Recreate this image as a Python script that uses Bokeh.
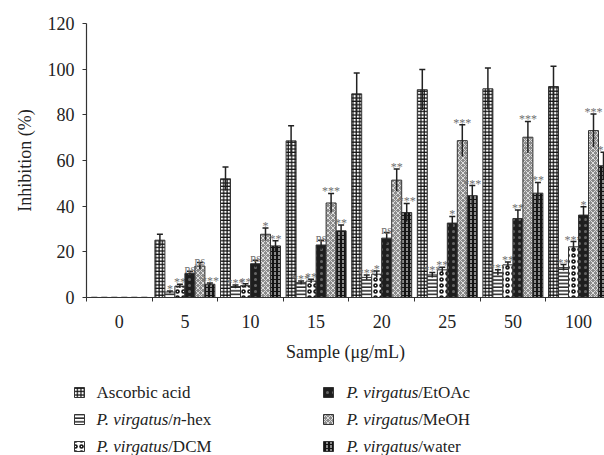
from bokeh.plotting import figure
from bokeh.models import Range1d, FixedTicker, ColumnDataSource
from bokeh.layouts import column, row
from bokeh.embed import file_html
from bokeh.resources import INLINE
from bokeh.core.properties import value
from bokeh.transform import dodge

# ---------------- data ----------------
doses = ["0", "5", "10", "15", "20", "25", "50", "100"]
series = ["Ascorbic acid", "P. virgatus/n-hex", "P. virgatus/DCM",
          "P. virgatus/EtOAc", "P. virgatus/MeOH", "P. virgatus/water"]

aa = [0, 25.1, 52.0, 68.6, 89.2, 91.0, 91.4, 92.4]
aa_err = [0, 2.6, 5.1, 6.6, 9.1, 8.9, 9.1, 8.9]
nhex = [0, 2.4, 4.8, 6.5, 8.8, 9.9, 10.9, 13.1]
nhex_err = [0, 0.5, 0.7, 0.7, 1.0, 1.1, 1.2, 1.3]
dcm = [0, 5.0, 5.2, 7.2, 10.2, 12.1, 14.3, 22.2]
dcm_err = [0, 0.8, 0.8, 0.8, 1.4, 1.2, 1.2, 2.3]
etoac = [0, 10.5, 14.8, 23.0, 26.0, 32.6, 34.6, 36.1]
etoac_err = [0, 1.0, 1.5, 2.1, 2.5, 2.9, 3.7, 3.6]
meoh = [0, 13.8, 27.7, 41.4, 51.4, 68.7, 70.2, 73.1]
meoh_err = [0, 1.5, 2.7, 4.2, 4.9, 7.0, 6.9, 7.3]
water = [0, 5.8, 22.6, 29.2, 37.2, 44.6, 45.7, 57.7]
water_err = [0, 0.5, 2.2, 2.6, 4.0, 4.4, 4.7, 5.9]

aa_sig = ["", "", "", "", "", "", "", ""]
nhex_sig = ["", "*", "***", "***", "***", "***", "***", "**"]
dcm_sig = ["", "**", "**", "**", "*", "**", "**", "***"]
etoac_sig = ["", "ns", "ns", "ns", "ns", "*", "**", "*"]
meoh_sig = ["", "ns", "*", "***", "**", "***", "***", "***"]
water_sig = ["", "***", "**", "**", "***", "***", "**", "*"]

y_ticks = [0, 20, 40, 60, 80, 100, 120]

vals = [aa, nhex, dcm, etoac, meoh, water]
errs = [aa_err, nhex_err, dcm_err, etoac_err, meoh_err, water_err]
sigs = [aa_sig, nhex_sig, dcm_sig, etoac_sig, meoh_sig, water_sig]

# ---------------- styles ----------------
styles = [
    dict(fill_color="white", hatch_pattern="+", hatch_color="#111", hatch_scale=3.4, hatch_weight=1.2),
    dict(fill_color="white", hatch_pattern="-", hatch_color="#111", hatch_scale=3.6, hatch_weight=1.4),
    dict(fill_color="white", hatch_pattern="o", hatch_color="#111", hatch_scale=6, hatch_weight=1.6),
    dict(fill_color="#1e1e1e", hatch_pattern=".", hatch_color="#666", hatch_scale=6, hatch_weight=1.0),
    dict(fill_color="#8c8c8c", hatch_pattern="x", hatch_color="#e8e8e8", hatch_scale=5, hatch_weight=0.9),
    dict(fill_color="#141414", hatch_pattern=":", hatch_color="white", hatch_scale=4, hatch_weight=1.0),
]

SERIF = "Liberation Serif"
cat_px = 65.6
bar_w = 10.0 / cat_px

p = figure(width=604, height=365, output_backend="svg", toolbar_location=None,
           x_range=Range1d(0, 518.0 / cat_px), y_range=Range1d(0, 120),
           min_border_left=86, min_border_right=0, min_border_top=23, min_border_bottom=68)
p.outline_line_color = None
p.xgrid.visible = False
p.ygrid.visible = False
p.background_fill_color = "white"

centers = [i + 0.5 for i in range(len(doses))]

for k in range(6):
    lo = [v - e for v, e in zip(vals[k], errs[k])]
    hi = [v + e for v, e in zip(vals[k], errs[k])]
    xoff = [0] * len(doses)
    if k == 5:
        xoff[-1] = -3
    src = ColumnDataSource(dict(x=centers, top=vals[k], lo=lo, hi=hi, sig=sigs[k], xoff=xoff))
    off = (k - 2.5) * bar_w
    xd = dodge("x", off, range=p.x_range)
    p.vbar(x=xd, top="top", bottom=0, width=bar_w, source=src,
           line_color="#333", line_width=1, **styles[k])
    p.segment(x0=xd, x1=xd, y0="lo", y1="hi", source=src, line_color="#222", line_width=1.5)
    p.scatter(x=xd, y="hi", marker="dash", size=6, line_color="#222", line_width=1.5, source=src)
    p.text(x=xd, y="hi", text="sig", source=src, text_align="center", text_baseline="alphabetic",
           x_offset="xoff", y_offset=-2, text_font=value(SERIF), text_font_size="12px",
           text_color="#707070")

# axes
xa = p.xaxis[0]
xa.ticker = FixedTicker(ticks=centers, minor_ticks=list(range(0, 9)))
xa.major_label_overrides = {c: d for c, d in zip(centers, doses)}
xa.minor_tick_line_color = "#333"
xa.minor_tick_out = 4
xa.minor_tick_in = 0
xa.major_label_standoff = 11
xa.axis_label = "Sample (μg/mL)"
xa.axis_label_standoff = 11

ya = p.yaxis[0]
ya.ticker = FixedTicker(ticks=y_ticks)
ya.minor_tick_line_color = None
ya.major_tick_out = 4
ya.major_tick_in = 0
ya.major_label_standoff = 8
ya.axis_label = "Inhibition (%)"
ya.axis_label_standoff = 10

for ax in (xa, ya):
    ax.axis_line_color = "#333"
    ax.axis_line_width = 1.2
    ax.major_label_text_font = SERIF
    ax.major_label_text_font_size = "18px"
    ax.major_label_text_color = "#222"
    ax.axis_label_text_font = SERIF
    ax.axis_label_text_font_size = "18px"
    ax.axis_label_text_font_style = "normal"
    ax.axis_label_text_color = "#222"
xa.major_tick_line_color = None
ya.major_tick_line_color = "#333"

# ---------------- legend (separate strip) ----------------
leg = figure(width=604, height=90, output_backend="svg", toolbar_location=None,
             x_range=Range1d(0, 604), y_range=Range1d(90, 0), min_border=0)
leg.axis.visible = False
leg.xgrid.visible = False
leg.ygrid.visible = False
leg.outline_line_color = None

# approximate advance widths (per 1000 em)
REG = {' ': 250, '/': 278, '-': 333, 'A': 722, 'C': 667, 'D': 722, 'E': 611, 'H': 722,
       'M': 889, 'O': 722, 'a': 444, 'b': 500, 'c': 444, 'd': 500, 'e': 444, 'h': 500,
       'i': 278, 'o': 500, 'r': 333, 's': 389, 't': 278, 'w': 722, 'x': 500}
ITA = {' ': 250, '.': 250, 'P': 611, 'a': 500, 'g': 500, 'i': 278, 'n': 500, 'r': 389,
       's': 389, 't': 278, 'u': 500, 'v': 444}
ITA_CORR = 0.96

leg_parts = [
    [("Ascorbic acid", "normal")],
    [("P. virgatus", "italic"), ("/", "normal"), ("n", "italic"), ("-hex", "normal")],
    [("P. virgatus", "italic"), ("/DCM", "normal")],
    [("P. virgatus", "italic"), ("/EtOAc", "normal")],
    [("P. virgatus", "italic"), ("/MeOH", "normal")],
    [("P. virgatus", "italic"), ("/water", "normal")],
]
fs = 17
rows_y = [27, 54, 81]
col_sw = [79, 328]
col_tx = [96, 346]

for k in range(6):
    col, rw = divmod(k, 3)
    y = rows_y[rw]
    leg.rect(x=[col_sw[col]], y=[y], width=10, height=10, line_color="#333", line_width=1, **styles[k])
    x = col_tx[col]
    for txt, st in leg_parts[k]:
        leg.text(x=[x], y=[y], text=[txt], text_font=value(SERIF), text_font_size=f"{fs}px",
                 text_font_style=st, text_align="left", text_baseline="middle", text_color="#222")
        if st == "italic":
            x += sum(ITA.get(ch, 500) for ch in txt) * fs / 1000.0 * ITA_CORR
        else:
            x += sum(REG.get(ch, 500) for ch in txt) * fs / 1000.0

layout = column(p, row(leg, spacing=0), spacing=0)
open("out.html", "w").write(file_html(layout, INLINE))
